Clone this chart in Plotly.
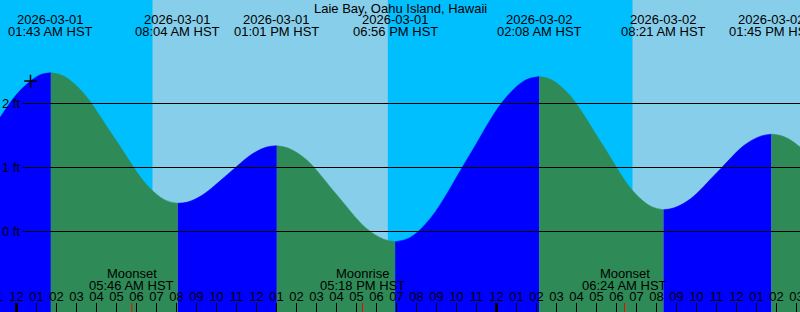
import plotly.graph_objects as go
from datetime import datetime, timedelta

# ---------------- data ----------------
station = "Laie Bay, Oahu Island, Hawaii"
tz_name = "HST"

view_start = "2026-02-28 23:10:30"
view_end = "2026-03-02 15:10:30"

event_time = ["2026-03-01 01:43", "2026-03-01 08:04", "2026-03-01 13:01",
              "2026-03-01 18:56", "2026-03-02 02:08", "2026-03-02 08:21",
              "2026-03-02 13:45"]
event_kind = ["High", "Low", "High", "Low", "High", "Low", "High"]

curve_time = [
    "2026-02-28 23:10:30", "2026-03-01 00:00", "2026-03-01 00:42", "2026-03-01 01:12",
    "2026-03-01 01:43", "2026-03-01 02:21", "2026-03-01 03:18", "2026-03-01 04:54",
    "2026-03-01 06:29", "2026-03-01 07:26", "2026-03-01 08:04", "2026-03-01 08:34",
    "2026-03-01 09:18", "2026-03-01 10:33", "2026-03-01 11:47", "2026-03-01 12:31",
    "2026-03-01 13:01", "2026-03-01 13:36", "2026-03-01 14:30", "2026-03-01 15:58",
    "2026-03-01 17:27", "2026-03-01 18:21", "2026-03-01 18:56", "2026-03-01 19:39",
    "2026-03-01 20:44", "2026-03-01 22:32", "2026-03-02 00:20", "2026-03-02 01:25",
    "2026-03-02 02:08", "2026-03-02 02:45", "2026-03-02 03:41", "2026-03-02 05:15",
    "2026-03-02 06:48", "2026-03-02 07:44", "2026-03-02 08:21", "2026-03-02 08:53",
    "2026-03-02 09:42", "2026-03-02 11:03", "2026-03-02 12:24", "2026-03-02 13:13",
    "2026-03-02 13:45", "2026-03-02 14:12", "2026-03-02 14:42", "2026-03-02 15:10:30",
]
curve_ft = [
    1.78, 2.14, 2.35, 2.45,
    2.48, 2.43, 2.18, 1.46,
    0.74, 0.49, 0.44, 0.46,
    0.57, 0.89, 1.21, 1.32,
    1.34, 1.30, 1.12, 0.59,
    0.06, -0.12, -0.16, -0.10,
    0.22, 1.13, 2.04, 2.36,
    2.42, 2.37, 2.12, 1.38,
    0.64, 0.39, 0.34, 0.37,
    0.51, 0.93, 1.35, 1.49,
    1.52, 1.50, 1.43, 1.32,
]

sunrise = ["2026-03-01 06:48", "2026-03-02 06:48"]
sunset = ["2026-03-01 18:34"]

moon_time = ["2026-03-01 05:46", "2026-03-01 17:18", "2026-03-02 06:24"]
moon_kind = ["Moonset", "Moonrise", "Moonset"]

now_time = "2026-03-01 00:42"
now_ft = 2.35

grid_ft = [0, 1, 2]
y_range = [-1.2578, 3.6172]

# ---------------- style ----------------
C_NIGHT = "#00BFFF"
C_DAY = "#87CEEB"
C_RISE = "#0000FF"
C_FALL = "#2E8B57"
FONT = "Liberation Sans, Arial, sans-serif"
H = 312.0
PX_PER_FT = H / (y_range[1] - y_range[0])

def dt(s):
    for f in ("%Y-%m-%d %H:%M:%S", "%Y-%m-%d %H:%M"):
        try:
            return datetime.strptime(s, f)
        except ValueError:
            pass
    raise ValueError(s)

def py(px):  # pixel from top -> paper y
    return 1 - px / H

def ft_at_px(px):
    return y_range[1] - px / PX_PER_FT

fig = go.Figure()

# tide fill segments
ct = [dt(s) for s in curve_time]
bounds = [dt(view_start)] + [dt(s) for s in event_time] + [dt(view_end)]
for i in range(len(bounds) - 1):
    a, b = bounds[i], bounds[i + 1]
    xs = [t for t in ct if a <= t <= b]
    ys = [curve_ft[k] for k, t in enumerate(ct) if a <= t <= b]
    if i < len(event_kind):
        nxt = event_kind[i]
    else:
        nxt = "Low" if event_kind[-1] == "High" else "High"
    col = C_RISE if nxt == "High" else C_FALL
    fig.add_trace(go.Scatter(x=xs, y=[y_range[0]] * len(xs), mode="lines",
                             line=dict(width=0, color=col), hoverinfo="skip",
                             showlegend=False))
    fig.add_trace(go.Scatter(x=xs, y=ys, mode="lines", fill="tonexty",
                             fillcolor=col, line=dict(width=0.6, color=col, shape="spline", smoothing=1.0),
                             hoverinfo="skip", showlegend=False))

# now marker
fig.add_trace(go.Scatter(x=[dt(now_time)], y=[now_ft], mode="markers",
                         marker=dict(symbol="cross-thin", size=9, line=dict(width=1.5, color="black")),
                         hoverinfo="skip", showlegend=False))

# hour labels
h0 = dt(view_start).replace(minute=0, second=0)
hours = []
t = h0
while t <= dt(view_end):
    hours.append(t)
    t += timedelta(hours=1)
fig.add_trace(go.Scatter(x=hours, y=[ft_at_px(297.5)] * len(hours), mode="text",
                         text=[h.strftime("%I") for h in hours],
                         textfont=dict(family=FONT, size=13, color="black"),
                         textposition="middle center", cliponaxis=True,
                         hoverinfo="skip", showlegend=False))

shapes = []
# night bands
nights = [(view_start, sunrise[0]), (sunset[0], sunrise[1])]
for a, b in nights:
    shapes.append(dict(type="rect", xref="x", yref="paper", x0=dt(a), x1=dt(b), y0=0, y1=1,
                       fillcolor=C_NIGHT, line=dict(width=0), layer="below"))
# grid lines
for g in grid_ft:
    shapes.append(dict(type="line", xref="paper", yref="y", x0=22 / 800, x1=1, y0=g, y1=g,
                       line=dict(color="black", width=1)))
# hour ticks
for h in hours:
    w = 3 if h.hour == 0 else 1
    shapes.append(dict(type="line", xref="x", yref="paper", x0=h, x1=h, y0=0, y1=9 / H,
                       line=dict(color="black", width=w)))
# moon ticks
for m in moon_time:
    shapes.append(dict(type="line", xref="x", yref="paper", x0=dt(m), x1=dt(m), y0=0, y1=9 / H,
                       line=dict(color="red", width=1)))

ann = []
ann.append(dict(text=station, xref="paper", yref="paper", x=0.5, y=py(8), xanchor="center",
                yanchor="middle", showarrow=False))
for s in event_time:
    d = dt(s)
    ann.append(dict(text=d.strftime("%Y-%m-%d"), xref="x", yref="paper", x=d, y=py(19.5),
                    xanchor="center", yanchor="middle", showarrow=False))
    ann.append(dict(text=d.strftime("%I:%M %p ") + tz_name, xref="x", yref="paper", x=d, y=py(31.5),
                    xanchor="center", yanchor="middle", showarrow=False))
for s, k in zip(moon_time, moon_kind):
    d = dt(s)
    ann.append(dict(text=k, xref="x", yref="paper", x=d, y=py(273.5),
                    xanchor="center", yanchor="middle", showarrow=False))
    ann.append(dict(text=d.strftime("%I:%M %p ") + tz_name, xref="x", yref="paper", x=d, y=py(285),
                    xanchor="center", yanchor="middle", showarrow=False))
for g in grid_ft:
    ann.append(dict(text=f"{g} ft", xref="paper", yref="y", x=0, y=g, xanchor="left",
                    yanchor="middle", showarrow=False, xshift=0))

fig.update_layout(
    width=800, height=312, margin=dict(l=0, r=0, t=0, b=0),
    paper_bgcolor=C_DAY, plot_bgcolor=C_DAY,
    font=dict(family=FONT, size=13, color="black"),
    xaxis=dict(type="date", range=[dt(view_start), dt(view_end)], visible=False, fixedrange=True),
    yaxis=dict(range=y_range, visible=False, fixedrange=True),
    shapes=shapes, annotations=ann, showlegend=False, hovermode=False,
)

fig.write_html("out.html", config={"displayModeBar": False})
